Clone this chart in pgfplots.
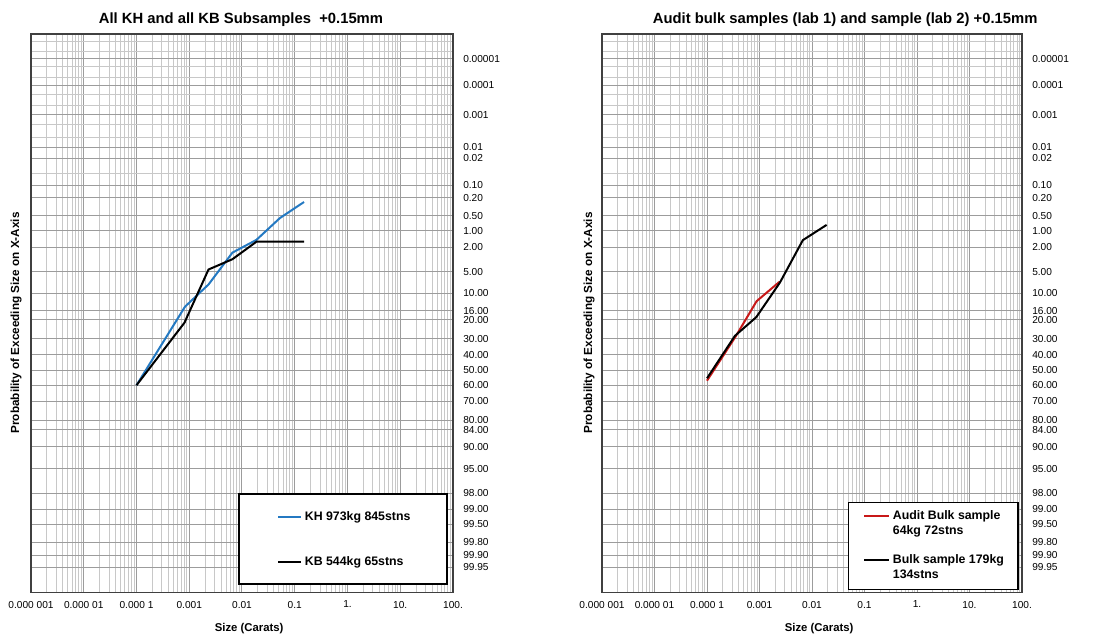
\documentclass[border=0pt]{standalone}
\usepackage{pgfplots}
\pgfplotsset{compat=1.18}
\usepackage{fontspec}
\setmainfont{Liberation Sans}
\definecolor{khblue}{HTML}{2479C2}
\definecolor{auditred}{HTML}{C81818}
\definecolor{mingrid}{HTML}{C8C8C8}
\definecolor{hgrid}{HTML}{9C9C9C}
\definecolor{frame}{HTML}{404040}

\begin{document}
\begin{tikzpicture}
\useasboundingbox (0,0) rectangle (825pt,476.25pt);

% y values are standard normal quantiles z = Phi^{-1}(p) of the exceedance probability p (percent shown as tick labels)
% ---------------- Left panel ----------------
\begin{axis}[
  scale only axis, width=316.5pt, height=419pt,
  at={(23.25pt,31.7pt)}, anchor=south west,
  xmode=log, xmin=1e-6, xmax=100,
  ymin=-5.612, ymax=3.719, y dir=reverse,
  xtick={1e-6,1e-5,1e-4,1e-3,1e-2,1e-1,1,10,100},
  xticklabels={0.000 001,0.000 01,0.000 1,0.001,0.01,0.1,1.,10.,100.},
  minor xtick={2e-6,3e-6,4e-6,5e-6,6e-6,7e-6,8e-6,9e-6,
               2e-5,3e-5,4e-5,5e-5,6e-5,7e-5,8e-5,9e-5,
               2e-4,3e-4,4e-4,5e-4,6e-4,7e-4,8e-4,9e-4,
               2e-3,3e-3,4e-3,5e-3,6e-3,7e-3,8e-3,9e-3,
               0.02,0.03,0.04,0.05,0.06,0.07,0.08,0.09,
               0.2,0.3,0.4,0.5,0.6,0.7,0.8,0.9,
               2,3,4,5,6,7,8,9,
               20,30,40,50,60,70,80,90},
  ytick={-5.1993,-4.7534,-4.2649,-3.7190,-3.5401,-3.0902,-2.8782,-2.5758,-2.3263,-2.0537,-1.6449,-1.2816,-0.9945,-0.8416,-0.5244,-0.2533,0,0.2533,0.5244,0.8416,0.9945,1.2816,1.6449,2.0537,2.3263,2.5758,2.8782,3.0902,3.2905},
  yticklabels={0.00001,0.0001,0.001,0.01,0.02,0.10,0.20,0.50,1.00,2.00,5.00,10.00,16.00,20.00,30.00,40.00,50.00,60.00,70.00,80.00,84.00,90.00,95.00,98.00,99.00,99.50,99.80,99.90,99.95},
  minor ytick={-5.4917,-5.3267,-5.0690,-4.8916,-4.6114,-4.4172,-4.1075,-3.8906,-3.2905},
  grid=both,
  major grid style={hgrid, line width=0.75pt},
  minor grid style={mingrid, line width=0.6pt},
  major tick length=0pt, minor tick length=0pt,
  yticklabel pos=right,
  yticklabel style={anchor=west, inner sep=0pt, xshift=7.5pt, font=\fontsize{7.6}{9}\selectfont},
  xticklabel style={anchor=north, inner sep=0pt, yshift=-6pt, font=\fontsize{7.6}{9}\selectfont},
  axis line style={draw=frame, line width=0.9pt},
  title={All KH and all KB Subsamples\ \ +0.15mm},
  title style={font=\bfseries\fontsize{11.1}{13}\selectfont, at={(axis description cs:0.4976,1)}, anchor=center, yshift=4.5pt},
  xlabel={Size (Carats)},
  xlabel style={font=\bfseries\fontsize{8.5}{10}\selectfont, at={(axis description cs:0.517,0)}, anchor=center, yshift=-26.5pt},
  ylabel={Probability of Exceeding Size on X-Axis},
  ylabel style={font=\bfseries\fontsize{8.8}{10}\selectfont, at={(axis description cs:0,0.483)}, anchor=center, yshift=11.25pt},
  legend cell align=left,
  legend style={at={(axis description cs:0.5829,0.0952)}, anchor=west, draw=none, fill=none,
    inner sep=0pt, row sep=22pt, column sep=0pt,
    font=\bfseries\fontsize{9.25}{11.25}\selectfont},
  legend image code/.code={\draw[#1, line width=1.5pt] (0pt,0pt) -- (17.25pt,0pt);},
]
\draw[black, fill=white, line width=0.8pt] (axis description cs:0.4929,0.0156) rectangle (axis description cs:0.9858,0.1767);
% KH 973kg 845stns
\addplot[khblue, line width=1.5pt] coordinates {
  (1e-4,0.2533) (8.3e-4,-1.058) (2.34e-3,-1.433) (6.6e-3,-1.962)
  (1.88e-2,-2.175) (5.2e-2,-2.537) (0.15,-2.807)};
\addlegendentry{KH 973kg 845stns}
% KB 544kg 65stns
\addplot[black, line width=1.5pt] coordinates {
  (1e-4,0.2533) (8.1e-4,-0.790) (2.32e-3,-1.680) (6.6e-3,-1.852)
  (1.88e-2,-2.144) (0.15,-2.144)};
\addlegendentry{KB 544kg 65stns}
\end{axis}

% ---------------- Right panel ----------------
\begin{axis}[
  scale only axis, width=315pt, height=419pt,
  at={(451.5pt,31.7pt)}, anchor=south west,
  xmode=log, xmin=1e-6, xmax=100,
  ymin=-5.612, ymax=3.719, y dir=reverse,
  xtick={1e-6,1e-5,1e-4,1e-3,1e-2,1e-1,1,10,100},
  xticklabels={0.000 001,0.000 01,0.000 1,0.001,0.01,0.1,1.,10.,100.},
  minor xtick={2e-6,3e-6,4e-6,5e-6,6e-6,7e-6,8e-6,9e-6,
               2e-5,3e-5,4e-5,5e-5,6e-5,7e-5,8e-5,9e-5,
               2e-4,3e-4,4e-4,5e-4,6e-4,7e-4,8e-4,9e-4,
               2e-3,3e-3,4e-3,5e-3,6e-3,7e-3,8e-3,9e-3,
               0.02,0.03,0.04,0.05,0.06,0.07,0.08,0.09,
               0.2,0.3,0.4,0.5,0.6,0.7,0.8,0.9,
               2,3,4,5,6,7,8,9,
               20,30,40,50,60,70,80,90},
  ytick={-5.1993,-4.7534,-4.2649,-3.7190,-3.5401,-3.0902,-2.8782,-2.5758,-2.3263,-2.0537,-1.6449,-1.2816,-0.9945,-0.8416,-0.5244,-0.2533,0,0.2533,0.5244,0.8416,0.9945,1.2816,1.6449,2.0537,2.3263,2.5758,2.8782,3.0902,3.2905},
  yticklabels={0.00001,0.0001,0.001,0.01,0.02,0.10,0.20,0.50,1.00,2.00,5.00,10.00,16.00,20.00,30.00,40.00,50.00,60.00,70.00,80.00,84.00,90.00,95.00,98.00,99.00,99.50,99.80,99.90,99.95},
  minor ytick={-5.4917,-5.3267,-5.0690,-4.8916,-4.6114,-4.4172,-4.1075,-3.8906,-3.2905},
  grid=both,
  major grid style={hgrid, line width=0.75pt},
  minor grid style={mingrid, line width=0.6pt},
  major tick length=0pt, minor tick length=0pt,
  yticklabel pos=right,
  yticklabel style={anchor=west, inner sep=0pt, xshift=7.5pt, font=\fontsize{7.6}{9}\selectfont},
  xticklabel style={anchor=north, inner sep=0pt, yshift=-6pt, font=\fontsize{7.6}{9}\selectfont},
  axis line style={draw=frame, line width=0.9pt},
  title={Audit bulk samples (lab 1) and sample (lab 2) +0.15mm},
  title style={font=\bfseries\fontsize{11.1}{13}\selectfont, at={(axis description cs:0.579,1)}, anchor=center, yshift=4.5pt},
  xlabel={Size (Carats)},
  xlabel style={font=\bfseries\fontsize{8.5}{10}\selectfont, at={(axis description cs:0.517,0)}, anchor=center, yshift=-26.5pt},
  ylabel={Probability of Exceeding Size on X-Axis},
  ylabel style={font=\bfseries\fontsize{8.8}{10}\selectfont, at={(axis description cs:0,0.483)}, anchor=center, yshift=9.75pt},
  legend cell align=left,
  legend style={at={(axis description cs:0.6214,0.0845)}, anchor=west, draw=none, fill=none,
    inner sep=0pt, row sep=10pt, column sep=0pt, cells={align=left},
    font=\bfseries\fontsize{9.25}{11.25}\selectfont},
  legend image code/.code={\draw[#1, line width=1.5pt] (0pt,5.6pt) -- (18.75pt,5.6pt);},
]
\draw[black, fill=white, line width=0.8pt] (axis description cs:0.588,0.0066) rectangle (axis description cs:0.9905,0.1623);
% Audit Bulk sample 64kg 72stns
\addplot[auditred, line width=1.5pt] coordinates {
  (1e-4,0.177) (3.5e-4,-0.559) (8.8e-4,-1.150) (2.42e-3,-1.477)};
\addlegendentry{Audit Bulk sample\\64kg 72stns}
% Bulk sample 179kg 134stns
\addplot[black, line width=1.5pt] coordinates {
  (1e-4,0.138) (3.4e-4,-0.571) (8.7e-4,-0.885) (2.45e-3,-1.462)
  (6.7e-3,-2.170) (1.9e-2,-2.425)};
\addlegendentry{Bulk sample 179kg\\134stns}
\end{axis}
\end{tikzpicture}
\end{document}
